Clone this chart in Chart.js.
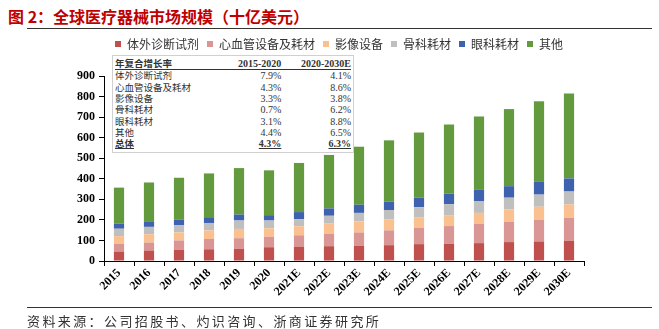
<!DOCTYPE html>
<html>
<head>
<meta charset="utf-8">
<script src="https://cdn.jsdelivr.net/npm/chart.js@4.4.0/dist/chart.umd.min.js"></script>
<style>
  body { margin: 0; width: 659px; height: 329px; background: #fff; position: relative; overflow: hidden; font-family: "Noto Sans CJK SC", sans-serif; }
  #title { position: absolute; left: 8px; top: 4px; font-size: 16px; font-weight: bold; color: #C00000; }
  .rule { position: absolute; left: 27px; width: 625px; height: 1px; background: #333; }
  #footer { position: absolute; left: 27px; top: 311px; font-size: 13px; letter-spacing: 2.4px; color: #333; }
  #wrap { position: absolute; left: 20px; top: 30px; width: 639px; height: 279px; }
  #cagr { position: absolute; left: 112px; top: 55px; width: 240px; height: 96px; border: 1px solid #d0d0d0; background: #fff; }
  #cagr table { border-collapse: collapse; width: 236px; margin-left: 2px; margin-top: 2px; font-size: 9.5px; color: #333; }
  #cagr td { padding: 0; height: 11.3px; line-height: 11px; }
  #cagr td.n { text-align: right; font-family: "Liberation Serif", serif; font-size: 10px; }
  #cagr tr.h td { font-weight: bold; border-bottom: 1px solid #333; }
  #cagr tr.t td { font-weight: bold; text-decoration: underline; }
</style>
</head>
<body>
<div id="title">图 2：全球医疗器械市场规模（十亿美元）</div>
<div class="rule" style="top:28px"></div>
<div id="wrap"><canvas id="chart-bar" width="639" height="279"></canvas></div>
<div id="cagr"><table id="cagr-table"></table></div>
<div class="rule" style="top:307px"></div>
<div id="footer">资料来源：公司招股书、灼识咨询、浙商证券研究所</div>
<script>
const years = ['2015', '2016', '2017', '2018', '2019', '2020', '2021E', '2022E',
    '2023E', '2024E', '2025E', '2026E', '2027E', '2028E', '2029E', '2030E'];

const ivd      = [46, 51, 54, 57, 59, 67, 70, 72, 74, 77, 82, 84, 87, 92, 95, 98];
const cardio   = [38, 39, 46, 50, 52, 51, 55, 61, 65, 72, 79, 86, 93, 98, 105, 112];
const imaging  = [37, 40, 39, 42, 45, 41, 44, 49, 54, 53, 52, 53, 54, 61, 64, 65];
const ortho    = [36, 36, 36, 36, 41, 38, 34, 38, 41, 46, 49, 54, 58, 57, 59, 63];
const ophth    = [25, 24, 27, 28, 29, 26, 35, 36, 40, 41, 46, 51, 54, 56, 62, 64];
const others   = [175, 192, 203, 213, 226, 218, 239, 260, 282, 298, 317, 336, 357, 375, 392, 413];

const seriesNames = ['体外诊断试剂', '心血管设备及耗材', '影像设备', '骨科耗材', '眼科耗材', '其他'];
const seriesColors = ['#C0504D', '#DA9694', '#FBC08F', '#BFBFBF', '#3F62AE', '#629A3D'];

const yTicks = [0, 100, 200, 300, 400, 500, 600, 700, 800, 900];

// 年复合增长率 table
const cagrHeader = ['年复合增长率', '2015-2020', '2020-2030E'];
const cagrNames = ['体外诊断试剂', '心血管设备及耗材', '影像设备', '骨科耗材', '眼科耗材', '其他', '总体'];
const cagr1520 = ['7.9%', '4.3%', '3.3%', '0.7%', '3.1%', '4.4%', '4.3%'];
const cagr2030 = ['4.1%', '8.6%', '3.8%', '6.2%', '8.8%', '6.5%', '6.3%'];

let table = document.getElementById('cagr-table');
table.innerHTML = '<tr class="h"><td>' + cagrHeader[0] + '</td><td class="n">' + cagrHeader[1] +
    '</td><td class="n">' + cagrHeader[2] + '</td></tr>';
cagrNames.forEach(function (name, i) {
    let cls = (i === cagrNames.length - 1) ? ' class="t"' : '';
    table.innerHTML += '<tr' + cls + '><td>' + name + '</td><td class="n">' + cagr1520[i] +
        '</td><td class="n">' + cagr2030[i] + '</td></tr>';
});

const values = [ivd, cardio, imaging, ortho, ophth, others];

const data = {
    labels: years,
    datasets: values.map(function (v, i) {
        return {
            label: seriesNames[i],
            data: v,
            backgroundColor: seriesColors[i],
            barPercentage: 0.34,
            categoryPercentage: 1.0,
        };
    }),
};

const axisFont = { family: 'Liberation Serif', weight: 'bold', size: 12 };

// move the legend so it sits where the original one is
const legendShift = {
    id: 'legendShift',
    afterLayout: function (chart) {
        let lg = chart.legend;
        lg.left += 37; lg.right += 37;
        lg.top -= 16; lg.bottom -= 16;
    }
};

new Chart(
    document.getElementById('chart-bar'),
    {
        type: 'bar',
        data: data,
        plugins: [legendShift],
        options: {
            responsive: false,
            animation: false,
            maintainAspectRatio: false,
            layout: { padding: { top: 16, right: 75, left: 0, bottom: 0 } },
            plugins: {
                legend: {
                    position: 'top',
                    labels: {
                        boxWidth: 6,
                        boxHeight: 6,
                        padding: 8,
                        color: '#333',
                        font: { family: 'Noto Sans CJK SC', size: 12 },
                    },
                },
                tooltip: { enabled: false },
            },
            scales: {
                x: {
                    stacked: true,
                    grid: { display: true, drawOnChartArea: false, drawTicks: true, tickLength: 5, color: '#000', offset: true },
                    border: { color: '#000', width: 1 },
                    ticks: { color: '#000', font: axisFont, maxRotation: 45, minRotation: 45, padding: 0 },
                    afterFit: function (s) { s.height = 48; },
                },
                y: {
                    stacked: true,
                    min: 0,
                    max: 900,
                    afterBuildTicks: function (s) { s.ticks = yTicks.map(function (t) { return { value: t }; }); },
                    grid: { display: true, drawOnChartArea: false, drawTicks: true, tickLength: 5, color: '#000' },
                    border: { color: '#000', width: 1 },
                    ticks: { color: '#000', font: axisFont, padding: 4 },
                    afterFit: function (s) { s.width = 84; },
                },
            },
        },
    }
);
</script>
</body>
</html>
